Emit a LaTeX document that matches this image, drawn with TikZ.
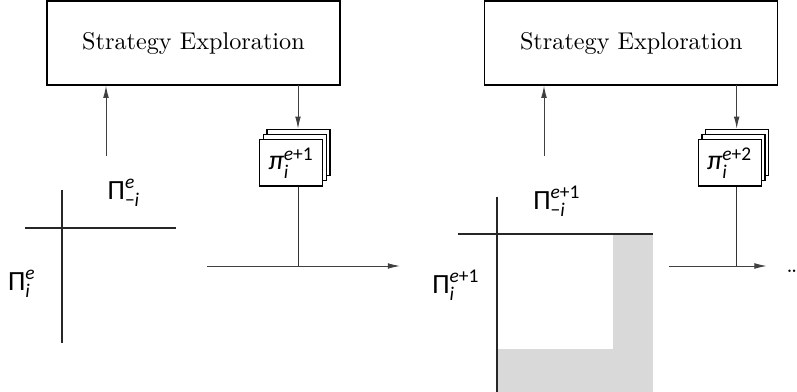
\documentclass[tikz,border=0pt]{standalone}
\usepackage{amsmath}
\usepackage{fontspec}
\newfontfamily\lab{Carlito}
\usetikzlibrary{arrows.meta}
\newcommand\lsup[3]{$\text{\lab #1}^{\text{\lab #2}}_{\text{\lab #3}}$}
\definecolor{boxgray}{gray}{0.85}
\begin{document}
\begin{tikzpicture}[x=0.45pt,y=-0.45pt,
 sebox/.style={draw, line width=0.6pt, minimum width=131.85pt, minimum height=37.8pt, inner sep=0pt, font=\fontsize{10.9}{12}\selectfont},
 card/.style={draw, fill=white, line width=0.6pt, minimum width=28.35pt, minimum height=20.8pt, inner sep=0pt},
 arr/.style={line width=0.45pt, draw=black!75, -{Latex[length=5.5pt,width=2.6pt]}},
 ln/.style={line width=0.45pt, draw=black!80},
 axis/.style={line width=0.7pt, draw=black!85},
 lbl/.style={inner sep=0pt, font=\lab\fontsize{12.5}{14}\selectfont}]
\useasboundingbox (0,0) rectangle (797,392);

% ---- left panel ----
\node[sebox] (se1) at (193.5,43) {Strategy Exploration};
\coordinate (u1) at (106,156);
\draw[arr] (u1) -- (u1 |- se1.south);
\node[card] (c1c) at (298.6,152.5) {};
\node[card] (c1b) at (294.9,157.7) {};
\node[card, font=\lab\fontsize{12.5}{14}\selectfont] (c1) at (291.2,162.9) {\lsup{\itshape π}{\itshape e\upshape+1}{\itshape i}};
\coordinate (d1) at (298,85);
\draw[arr] (d1) -- (d1 |- c1c.north);
\coordinate (h1a) at (207,266);
\coordinate (h1b) at (400,266);
\coordinate (j1) at (298,266);
\draw[ln] (j1 |- c1.south) -- (j1);
\draw[arr] (h1a) -- (h1b);

\draw[axis] (62,190) -- (62,343);
\draw[axis] (24.7,228) -- (176,228);
\node[lbl] (l1a) at (124,193) {\lsup{Π}{\itshape e}{−\itshape i}};
\node[lbl] (l1b) at (22,284) {\lsup{Π}{\itshape e}{\itshape i}};

% ---- right panel ----
\node[sebox] (se2) at (631.3,43) {Strategy Exploration};
\coordinate (u2) at (544,156);
\draw[arr] (u2) -- (u2 |- se2.south);
\node[card] (c2c) at (737.1,152.5) {};
\node[card] (c2b) at (733.4,157.7) {};
\node[card, font=\lab\fontsize{12.5}{14}\selectfont] (c2) at (729.7,162.9) {\lsup{\itshape π}{\itshape e\upshape+2}{\itshape i}};
\coordinate (d2) at (736.7,85);
\draw[arr] (d2) -- (d2 |- c2c.north);
\coordinate (h2a) at (669,266);
\coordinate (h2b) at (766.7,266);
\coordinate (j2) at (736.7,266);
\draw[ln] (j2 |- c2.south) -- (j2);
\draw[arr] (h2a) -- (h2b);
\node[anchor=base west, inner sep=0pt, font=\fontsize{10.5}{12}\selectfont] (dots) at (786,272) {\dots};

\fill[boxgray] (612.7,234) rectangle (652.7,392);
\fill[boxgray] (497,348.7) rectangle (652.7,392);
\draw[axis] (497,196.7) -- (497,392);
\draw[axis] (458.3,234) -- (652.7,234);
\node[lbl] (l2a) at (557,201) {\lsup{Π}{\itshape e\upshape+1}{−\itshape i}};
\node[lbl] (l2b) at (456,285) {\lsup{Π}{\itshape e\upshape+1}{\itshape i}};
\end{tikzpicture}
\end{document}
